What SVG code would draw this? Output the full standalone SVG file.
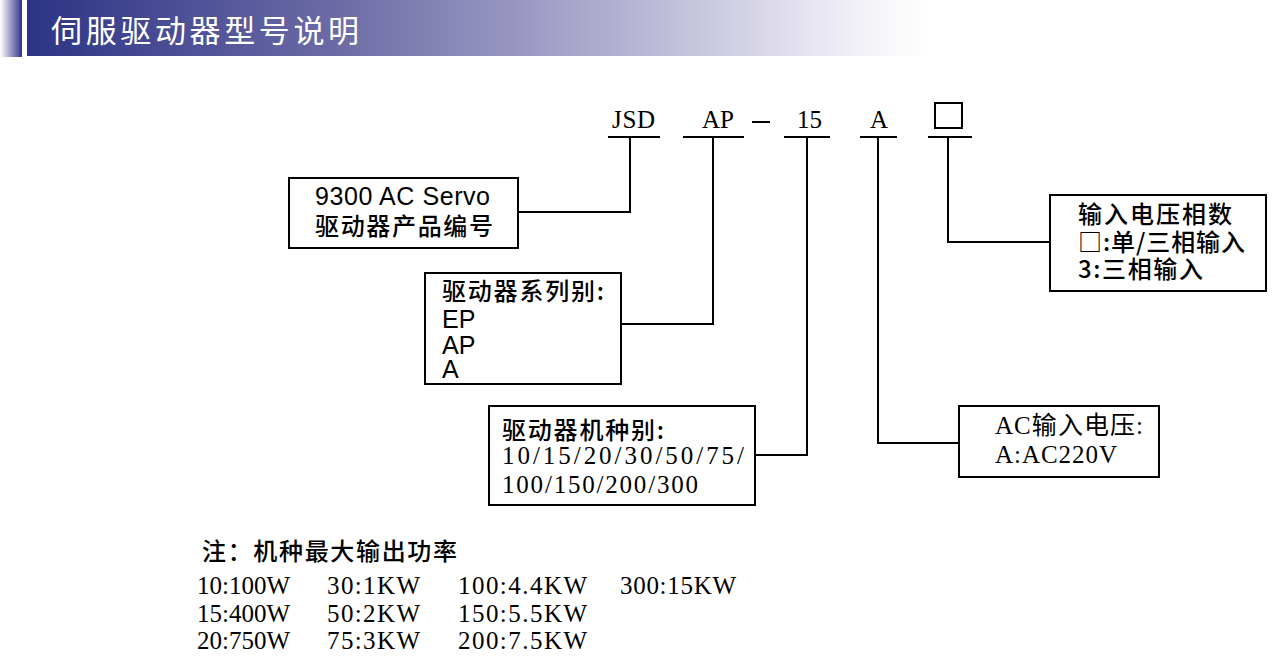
<svg xmlns="http://www.w3.org/2000/svg" width="1274" height="660" viewBox="0 0 1274 660">
<defs>
<linearGradient id="band" x1="0" y1="0" x2="1" y2="0">
<stop offset="0" stop-color="#2b3485"/>
<stop offset="0.35" stop-color="#6e6ca6"/>
<stop offset="0.7" stop-color="#bdbbd8"/>
<stop offset="0.92" stop-color="#f2f1f7"/>
<stop offset="1" stop-color="#ffffff"/>
</linearGradient>
<linearGradient id="side" x1="0" y1="0" x2="1" y2="0">
<stop offset="0" stop-color="#ffffff"/>
<stop offset="0.35" stop-color="#b9b9d6"/>
<stop offset="1" stop-color="#2b3485"/>
</linearGradient>
<style>
.ln{stroke:#000;stroke-width:2;fill:none}
.bx{stroke:#000;stroke-width:2;fill:#fff}
.sans{font-family:"Liberation Sans","Noto Sans CJK SC",sans-serif;font-size:25px;fill:#000}
.cjk{font-family:"Noto Sans CJK SC","Liberation Sans",sans-serif;font-size:24px;font-weight:500;fill:#000}
.serif{font-family:"Liberation Serif","Noto Sans CJK SC",serif;font-size:25px;fill:#000}
.code{font-family:"Liberation Serif",serif;font-size:25px;fill:#000}
.title{font-family:"Noto Sans CJK SC",sans-serif;font-size:31px;fill:#fff}
</style>
</defs>
<rect width="1274" height="660" fill="#fff"/>
<g id="header">
<rect x="0" y="0" width="22" height="57" fill="url(#side)"/>
<rect x="27" y="0" width="903" height="56" fill="url(#band)"/>
<text class="title" x="51" y="42" textLength="308">伺服驱动器型号说明</text>
</g>
<g id="code">
<text class="code" x="612" y="128" textLength="43">JSD</text>
<text class="code" x="702" y="128" textLength="32">AP</text>
<line class="ln" x1="752" y1="122" x2="770" y2="122" stroke-width="3"/>
<text class="code" x="797" y="128" textLength="25">15</text>
<text class="code" x="870" y="128">A</text>
<rect x="935" y="103" width="27" height="25" fill="none" stroke="#000" stroke-width="2"/>
</g>
<g id="connectors">
<line class="ln" x1="608" y1="137" x2="660" y2="137"/>
<line class="ln" x1="683" y1="137" x2="744" y2="137"/>
<line class="ln" x1="784" y1="137" x2="830" y2="137"/>
<line class="ln" x1="860" y1="137" x2="897" y2="137"/>
<line class="ln" x1="928" y1="137" x2="972" y2="137"/>
<polyline class="ln" points="630,137 630,212 518,212"/>
<polyline class="ln" points="713,137 713,324 621,324"/>
<polyline class="ln" points="807,137 807,455 755,455"/>
<polyline class="ln" points="878,137 878,443 959,443"/>
<polyline class="ln" points="948,137 948,242 1050,242"/>
</g>
<g id="node-product">
<rect class="bx" x="289" y="178" width="229" height="70"/>
<text class="sans" x="315" y="205" textLength="175">9300 AC Servo</text>
<text class="cjk" x="315" y="235" textLength="178">驱动器产品编号</text>
</g>
<g id="node-series">
<rect class="bx" x="425" y="273" width="196" height="111"/>
<text class="cjk" x="442" y="300" textLength="162">驱动器系列别:</text>
<text class="sans" x="442" y="328">EP</text>
<text class="sans" x="442" y="354">AP</text>
<text class="sans" x="442" y="378">A</text>
</g>
<g id="node-model">
<rect class="bx" x="489" y="406" width="266" height="99"/>
<text class="cjk" x="502" y="439" font-weight="bold" textLength="162">驱动器机种别:</text>
<text class="serif" x="502" y="464" textLength="242">10/15/20/30/50/75/</text>
<text class="serif" x="502" y="493" textLength="196">100/150/200/300</text>
</g>
<g id="node-phase">
<rect class="bx" x="1050" y="195" width="216" height="96"/>
<text class="cjk" x="1078" y="223" font-size="23" textLength="154">输入电压相数</text>
<text class="cjk" x="1078" y="251" font-size="23" textLength="167">□:单/三相输入</text>
<text class="cjk" x="1078" y="278" font-size="23" textLength="125">3:三相输入</text>
</g>
<g id="node-voltage">
<rect class="bx" x="959" y="406" width="200" height="71"/>
<text class="serif" x="995" y="434" textLength="148">AC输入电压:</text>
<text class="serif" x="995" y="463" textLength="122">A:AC220V</text>
</g>
<g id="note">
<text class="cjk" x="202" y="560" font-weight="bold" font-size="22" textLength="255">注：机种最大输出功率</text>
<g class="serif">
<text x="197" y="594" textLength="93">10:100W</text>
<text x="327" y="594" textLength="93">30:1KW</text>
<text x="458" y="594" textLength="129">100:4.4KW</text>
<text x="620" y="594" textLength="116">300:15KW</text>
<text x="197" y="622" textLength="93">15:400W</text>
<text x="327" y="622" textLength="93">50:2KW</text>
<text x="458" y="622" textLength="129">150:5.5KW</text>
<text x="197" y="649" textLength="93">20:750W</text>
<text x="327" y="649" textLength="93">75:3KW</text>
<text x="458" y="649" textLength="129">200:7.5KW</text>
</g>
</g>
</svg>
